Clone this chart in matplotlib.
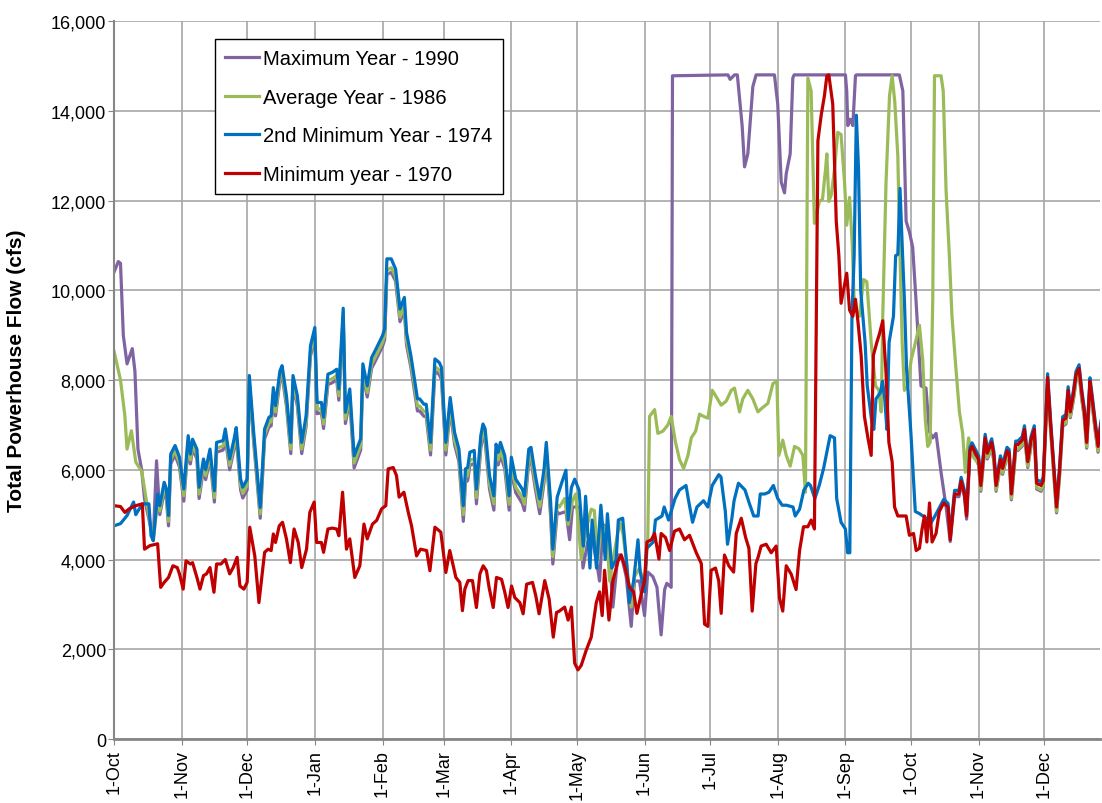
import pandas as pd
import matplotlib.pyplot as plt
import matplotlib.dates as mdates
from matplotlib.ticker import FuncFormatter, MultipleLocator

# ---------------------------------------------------------
# Daily powerhouse flow, (day since 1-Oct, cfs) pairs
# ---------------------------------------------------------
flow_1990 = [
    (0, 10400), (2, 10640), (3, 10600), (4.3, 8990), (6, 8360), (8.4, 8700), (9.6, 8200),
    (11, 6460), (12.7, 6000), (14, 5350), (18, 4450), (19.5, 6200), (21, 5000),
    (23, 5500), (24, 5350), (25, 4750), (26, 6130), (28, 6330), (30, 6060), (32, 5300),
    (34, 6550), (35, 6130), (36, 6470), (38, 6240), (39, 5360), (41, 6020), (42, 5780),
    (44, 6240), (46, 5280), (47, 6390), (50, 6440), (51, 6700), (53, 6000), (55, 6460),
    (56, 6730), (58, 5550), (59, 5370), (61, 5550), (62, 7880), (64, 6610), (67, 4920),
    (69, 6690), (71, 6950), (72, 6980), (73, 7610), (74, 7200), (76, 7980), (77, 8100),
    (79, 7420), (81, 6360), (82, 7880), (84, 7420), (86, 6360), (88, 6970), (90, 8530),
    (92, 8950), (93, 7250), (95, 7270), (96, 6920), (98, 7900), (100, 7940), (102, 8010),
    (103, 7550), (105, 9360), (106, 7030), (108, 7550), (110, 6040), (113, 6440),
    (114, 8110), (116, 7620), (118, 8260), (120, 8450), (123, 8750), (124, 8900),
    (125, 10350), (127, 10400), (129, 10200), (131, 9300), (133, 9550), (134, 8780),
    (136, 8280), (139, 7310), (140, 7310), (142, 7190), (143, 7190), (145, 6330),
    (147, 8200), (149, 8120), (150, 8010), (152, 6330), (154, 7340), (156, 6560),
    (158, 6180), (160, 4850), (161, 5720), (162, 5760), (163, 6100), (165, 6140),
    (166, 5240), (168, 6480), (169, 6740), (170, 6630), (172, 5570), (174, 5100),
    (175, 6290), (176, 6110), (177, 6330), (179, 6020), (181, 5100), (182, 5990),
    (184, 5490), (187, 5250), (188, 5090), (190, 6180), (191, 6220), (193, 5570),
    (195, 5020), (197, 5730), (198, 6330), (200, 4950), (201, 3900), (203, 5060),
    (204, 5020), (207, 5070), (208.7, 4440), (210, 5170), (213.3, 5170), (214.8, 3810),
    (217, 4390), (218.6, 4580), (220.9, 4000), (222.4, 3520), (224, 4780), (226.2, 4680),
    (228.5, 2940), (230.8, 4100), (232.3, 4100), (234.6, 3620), (236.9, 2510),
    (238.4, 3520), (240.7, 3520), (243, 2750), (244.5, 3720), (246.8, 3620),
    (248.7, 3380), (250.6, 2320), (252.2, 3330), (253.2, 3470), (255.2, 3380),
    (255.8, 14780), (281.2, 14800), (282.2, 14700), (284.2, 14800), (285.5, 14800),
    (287.7, 13670), (288.8, 12750), (290.3, 13040), (292.6, 14540), (294.1, 14800),
    (302.5, 14800), (304, 14150), (305.6, 12410), (307.1, 12170), (307.9, 12600),
    (309.7, 13040), (310.9, 14730), (311.5, 14800), (335, 14800), (335.6, 14440),
    (336.1, 13670), (337.3, 13810), (338.4, 13670), (339.6, 14780), (340, 14800),
    (359.7, 14800), (361.3, 14440), (362.8, 11540), (364.3, 11300), (365.8, 10960),
    (367.3, 9800), (368.9, 8450), (369.6, 7870), (371.9, 7820), (373.4, 6860),
    (375, 6710), (376.5, 6810), (378.8, 5940), (381.1, 5170), (383, 4400), (385, 5400),
    (387, 5400), (388, 5690), (389.5, 5400), (390.5, 4900), (392, 6340), (393, 6440),
    (396, 6100), (397, 5520), (399, 6580), (400, 6240), (402, 6480), (403, 6190),
    (404, 5520), (406, 6100), (407, 5900), (409, 6290), (410, 6240), (411, 5330),
    (413, 6430), (414, 6430), (416, 6530), (417, 6770), (418.5, 6050), (420, 6530),
    (421.5, 6770), (422.6, 5570), (424.6, 5520), (425.6, 5620), (427.6, 7930),
    (429, 6870), (430, 6190), (431.7, 5040), (433, 5810), (434.5, 6970), (436, 7020),
    (437, 7640), (438, 7160), (439.4, 7550), (440.6, 7980), (442, 8130), (443.3, 7550),
    (444.4, 7160), (445.5, 6480), (447, 7840), (448, 7450), (449.4, 6870), (450.7, 6390),
    (452, 6870),
]

flow_1986 = [
    (0, 8650), (3, 8000), (5, 7200), (6, 6460), (8, 6870), (10, 6170), (12.7, 5970),
    (15, 5270), (18, 4420), (20, 5300), (21, 5080), (23, 5600), (24, 5450), (25, 4850),
    (26, 6230), (28, 6420), (30, 6150), (32, 5420), (34, 6640), (35, 6220), (36, 6560),
    (38, 6330), (39, 5460), (41, 6110), (42, 5870), (44, 6330), (46, 5380), (47, 6480),
    (50, 6530), (51, 6790), (53, 6100), (55, 6550), (56, 6820), (58, 5650), (59, 5470),
    (61, 5650), (62, 7970), (64, 6700), (67, 5020), (69, 6780), (71, 7040), (72, 7070),
    (73, 7700), (74, 7290), (76, 8070), (77, 8190), (79, 7510), (81, 6460), (82, 7970),
    (84, 7510), (86, 6460), (88, 7060), (90, 8620), (92, 9040), (93, 7350), (95, 7360),
    (96, 7020), (98, 7990), (100, 8030), (102, 8100), (103, 7650), (105, 9450),
    (106, 7130), (108, 7650), (110, 6150), (113, 6540), (114, 8200), (116, 7720),
    (118, 8350), (120, 8540), (123, 8840), (124, 8990), (125, 10450), (127, 10500),
    (129, 10300), (131, 9400), (133, 9650), (134, 8880), (136, 8380), (139, 7420),
    (140, 7420), (142, 7300), (143, 7300), (145, 6440), (147, 8300), (149, 8220),
    (150, 8110), (152, 6440), (154, 7440), (156, 6660), (158, 6290), (160, 5000),
    (161, 5830), (162, 5870), (163, 6210), (165, 6250), (166, 5380), (168, 6590),
    (169, 6850), (170, 6740), (172, 5690), (174, 5240), (175, 6400), (176, 6220),
    (177, 6440), (179, 6130), (181, 5230), (182, 6100), (184, 5610), (187, 5390),
    (188, 5230), (190, 6290), (191, 6330), (193, 5690), (195, 5170), (197, 5840),
    (198, 6440), (200, 5090), (201, 4060), (203, 5220), (204, 5170), (206.4, 5360),
    (208, 4780), (210, 5310), (211.5, 5460), (214, 4000), (216.3, 4680), (218.6, 5120),
    (220, 5090), (221.6, 4000), (223.2, 4780), (225.5, 4680), (227, 3520), (229.3, 4200),
    (231.6, 4830), (233.1, 4580), (234.6, 4000), (236.9, 2940), (238.4, 3620),
    (240.7, 3810), (243, 3430), (244.5, 4490), (245.3, 7190), (247.6, 7340),
    (249.1, 6810), (251.4, 6860), (253.7, 7000), (255.2, 7190), (257.2, 6610),
    (259, 6230), (260.9, 6030), (262.9, 6320), (264.4, 6710), (266.4, 6860),
    (268.2, 7240), (270, 7190), (272, 7150), (274, 7770), (275.8, 7630), (278.1, 7440),
    (280.4, 7530), (282.7, 7770), (284.2, 7820), (286.5, 7290), (288, 7580),
    (290.3, 7770), (292.6, 7580), (294.9, 7290), (297.2, 7390), (299.5, 7480),
    (301.8, 7920), (303.6, 7970), (304.5, 6320), (306.3, 6660), (307.9, 6320),
    (309.7, 6080), (311.7, 6520), (313.7, 6470), (315.5, 6320), (316.7, 5500),
    (317.8, 14730), (319.3, 14440), (320.8, 11490), (323.1, 11980), (324.5, 12030),
    (325.9, 12700), (326.5, 13040), (327.4, 11980), (328.5, 12120), (330, 12700),
    (331.5, 13520), (333, 13470), (334.6, 12410), (335.6, 11450), (336.9, 12070),
    (338.1, 11060), (339.1, 9610), (341.4, 9420), (343.3, 10240), (344.8, 10190),
    (346.8, 8840), (348.8, 7870), (350.3, 7770), (351.4, 7290), (352.1, 9420),
    (353.6, 12410), (355.2, 14340), (356.4, 14780), (357.6, 14200), (359, 12990),
    (359.7, 11350), (361, 8840), (362, 7770), (363.6, 7870), (365.1, 8450),
    (366.6, 8740), (368.9, 9220), (370.4, 8450), (371.6, 7100), (372.7, 6520),
    (373.8, 6610), (375, 9800), (375.8, 14780), (378.8, 14780), (379.8, 14440),
    (381.1, 12220), (382.6, 10770), (383.8, 9420), (385.6, 8260), (387.2, 7290),
    (388.7, 6810), (389.9, 5940), (391.4, 6710), (393, 6320), (396, 6130), (397, 5550),
    (399, 6610), (400, 6270), (402, 6510), (403, 6220), (404, 5550), (406, 6130),
    (407, 5930), (409, 6320), (410, 6270), (411, 5360), (413, 6460), (414, 6460),
    (416, 6560), (417, 6800), (418.5, 6080), (420, 6560), (421.5, 6800), (422.6, 5600),
    (424.6, 5550), (425.6, 5650), (427.6, 7960), (429, 6900), (430, 6220), (431.7, 5070),
    (433, 5840), (434.5, 7000), (436, 7050), (437, 7670), (438, 7190), (439.4, 7580),
    (440.6, 8010), (442, 8160), (443.3, 7580), (444.4, 7190), (445.5, 6510), (447, 7870),
    (448, 7480), (449.4, 6900), (450.7, 6420), (452, 6900),
]

flow_1974 = [
    (0, 4750), (3, 4800), (6, 4980), (9, 5280), (10, 5000), (13, 5240), (16, 5240),
    (17, 4530), (18, 4420), (20, 5460), (21, 5200), (23, 5720), (24, 5580), (25, 4980),
    (26, 6350), (28, 6540), (30, 6280), (32, 5570), (34, 6760), (35, 6350), (36, 6680),
    (38, 6460), (39, 5610), (41, 6240), (42, 6000), (44, 6460), (46, 5530), (47, 6610),
    (50, 6650), (51, 6910), (53, 6240), (55, 6680), (56, 6940), (58, 5790), (59, 5610),
    (61, 5790), (62, 8100), (64, 6830), (67, 5160), (69, 6910), (71, 7170), (72, 7200),
    (73, 7830), (74, 7430), (76, 8200), (77, 8320), (79, 7650), (81, 6610), (82, 8100),
    (84, 7650), (86, 6610), (88, 7200), (90, 8760), (92, 9170), (93, 7500), (95, 7500),
    (96, 7170), (98, 8130), (100, 8170), (102, 8240), (103, 7800), (105, 9600),
    (106, 7280), (108, 7800), (110, 6310), (113, 6690), (114, 8360), (116, 7870),
    (118, 8500), (120, 8690), (123, 8990), (124, 9140), (125, 10700), (127, 10700),
    (129, 10470), (131, 9580), (133, 9840), (134, 9060), (136, 8540), (139, 7580),
    (140, 7580), (142, 7460), (143, 7460), (145, 6610), (147, 8470), (149, 8390),
    (150, 8280), (152, 6610), (154, 7610), (156, 6830), (158, 6460), (160, 5200),
    (161, 6020), (162, 6050), (163, 6390), (165, 6430), (166, 5570), (168, 6760),
    (169, 7020), (170, 6910), (172, 5870), (174, 5420), (175, 6570), (176, 6390),
    (177, 6610), (179, 6310), (181, 5420), (182, 6280), (184, 5790), (187, 5570),
    (188, 5420), (190, 6460), (191, 6500), (193, 5870), (195, 5350), (197, 6020),
    (198, 6610), (200, 5270), (201, 4230), (203, 5390), (205, 5700), (207, 5990),
    (208, 4880), (209.5, 5600), (211, 5790), (213, 5550), (215, 4300), (216, 5410),
    (218, 3810), (219, 4880), (221, 3810), (223, 5210), (225, 4000), (226, 5020),
    (228, 3810), (230, 4000), (231, 4880), (233, 4920), (235, 3810), (236, 3040),
    (238, 3520), (240, 4440), (241, 3720), (243, 3280), (244, 4250), (247, 4390),
    (248, 4880), (251, 4970), (252, 5170), (254, 4880), (257, 5360), (259, 5550),
    (262, 5650), (263, 5360), (265, 4830), (267, 5170), (270, 5310), (272, 5170),
    (274, 5650), (277, 5890), (278, 5840), (280, 5070), (281, 4340), (283, 4920),
    (284, 5310), (286, 5700), (289, 5550), (291, 5250), (293, 4970), (295, 4970),
    (296, 5460), (298, 5460), (300, 5500), (302, 5650), (304, 5360), (306, 5210),
    (308, 5210), (311, 5170), (312, 4970), (314, 5120), (316, 5550), (318, 5700),
    (319, 5650), (321, 5360), (323, 5650), (325, 6030), (327, 6520), (328, 6760),
    (330, 6710), (331, 5360), (333, 4830), (335, 4680), (336, 4150), (337, 4150),
    (338, 9420), (339, 10770), (340, 13900), (341, 12700), (342, 9990), (343, 9420),
    (344, 8840), (345, 7870), (347, 7100), (348, 6900), (349, 7580), (351, 7720),
    (352, 7970), (353, 7580), (354, 6900), (355, 8840), (357, 9420), (358, 10770),
    (359, 10800), (360, 12270), (361, 11000), (362, 9800), (363, 8260), (365, 6810),
    (366, 5940), (367, 5070), (369, 5020), (372, 4920), (374, 4800), (376, 4970),
    (378, 5150), (380, 5340), (382, 5250), (383, 4520), (385, 5540), (387, 5540),
    (388, 5830), (389.5, 5540), (390.5, 5050), (392, 6500), (393, 6600), (396, 6310),
    (397, 5730), (399, 6790), (400, 6450), (402, 6690), (403, 6400), (404, 5730),
    (406, 6310), (407, 6110), (409, 6500), (410, 6450), (411, 5540), (413, 6640),
    (414, 6640), (416, 6740), (417, 6980), (418.5, 6260), (420, 6740), (421.5, 6980),
    (422.6, 5780), (424.6, 5730), (425.6, 5830), (427.6, 8140), (429, 7080), (430, 6400),
    (431.7, 5250), (433, 6020), (434.5, 7180), (436, 7230), (437, 7850), (438, 7370),
    (439.4, 7760), (440.6, 8190), (442, 8340), (443.3, 7760), (444.4, 7370),
    (445.5, 6690), (447, 8050), (448, 7660), (449.4, 7080), (450.7, 6600), (452, 7080),
]

flow_1970 = [
    (0, 5200), (3, 5180), (5, 5050), (7, 5130), (10, 5200), (13, 5240), (14, 4230),
    (16.5, 4310), (20, 4350), (21.4, 3380), (23, 3490), (25, 3600), (27, 3860),
    (29, 3820), (30, 3680), (31.7, 3340), (33, 3970), (35, 3900), (36, 3930), (38, 3600),
    (39.4, 3340), (41, 3640), (42.4, 3680), (44, 3820), (45.8, 3270), (47, 3900),
    (49, 3900), (51, 4000), (53, 3680), (54.6, 3820), (56.4, 4050), (57.7, 3410),
    (59.5, 3340), (61, 3490), (62.2, 4720), (64.5, 4080), (66.4, 3040), (69, 4160),
    (70.6, 4230), (72, 4200), (73, 4570), (74, 4380), (75.7, 4750), (77.2, 4830),
    (79, 4460), (80.8, 3930), (82.5, 4680), (84.4, 4380), (86, 3820), (88.2, 4230),
    (89.7, 5050), (91.7, 5280), (92.8, 4380), (95, 4380), (96, 4160), (98, 4680),
    (100, 4700), (102, 4680), (103, 4530), (104.7, 5500), (106.5, 4230), (108, 4460),
    (110.3, 3600), (112.6, 3860), (114.5, 4790), (116, 4460), (118.4, 4790),
    (120.3, 4870), (122.6, 5130), (124.5, 5200), (125.6, 6020), (127.9, 6050),
    (129.4, 5870), (130.6, 5390), (132.8, 5500), (134.8, 5050), (136.3, 4750),
    (138.6, 4080), (140.4, 4230), (143.2, 4200), (144.7, 3750), (147, 4720),
    (149.7, 4610), (152, 3710), (153.8, 4200), (156.6, 3600), (158.4, 3490),
    (159.6, 2860), (160.7, 3340), (162.2, 3530), (164.2, 3530), (166, 2930),
    (167.6, 3680), (169.1, 3860), (170.6, 3750), (171.8, 3380), (173.7, 2930),
    (175.2, 3600), (177.5, 3560), (179, 3270), (180.5, 2930), (182.1, 3410),
    (183.6, 3150), (185.9, 3040), (187.4, 2790), (189, 3450), (191.7, 3490),
    (193.2, 3190), (194.7, 2790), (197.3, 3530), (199.3, 3120), (201.2, 2270),
    (202.7, 2820), (204, 2850), (206.4, 2940), (208, 2650), (209.5, 2940), (211, 1690),
    (212.5, 1540), (214, 1640), (216.3, 1980), (218.6, 2270), (220.9, 3040),
    (222.4, 3280), (223.6, 2750), (224.7, 3760), (226.7, 2650), (228.5, 3520),
    (230.8, 3960), (232.3, 4100), (233.9, 3860), (236.1, 3380), (238, 3280),
    (239.5, 2800), (241.5, 3230), (243, 3520), (244.1, 4390), (246.1, 4440),
    (247.6, 4580), (249.6, 4010), (250.6, 4580), (252.6, 4490), (254.5, 4200),
    (256.7, 4630), (259, 4680), (261.3, 4440), (263.6, 4540), (266.7, 4150), (269, 3910),
    (270.5, 2560), (272, 2510), (273.5, 3760), (275.5, 3810), (277, 3520), (278.1, 2800),
    (279.6, 4100), (281.6, 3860), (283.8, 3720), (285, 4580), (287.3, 4920),
    (289.3, 4490), (290.8, 4250), (292.3, 2850), (294, 3910), (295, 4050),
    (296.4, 4300), (298.7, 4340), (301, 4150), (303.3, 4300), (304.8, 3140),
    (306.3, 2850), (307.9, 3860), (310.2, 3670), (312.4, 3330), (314, 4200),
    (315.8, 4730), (317.8, 4730), (319.3, 4880), (320.8, 4680), (322.4, 13330),
    (323.9, 13900), (325.4, 14340), (326.5, 14780), (327.4, 14800), (329.2, 14150),
    (330.8, 11540), (332, 10770), (333, 9710), (334.1, 9990), (335.6, 10380),
    (336.9, 9560), (338.4, 9420), (339.6, 9800), (340.7, 9320), (342.2, 8550),
    (343.7, 7190), (345.3, 6710), (346.8, 6320), (347.8, 8550), (349.4, 8840),
    (350.6, 9030), (352.1, 9320), (353.6, 8160), (354.9, 6610), (356.4, 6180),
    (357.5, 5170), (359, 4970), (360.5, 4970), (362.8, 4970), (364.3, 4540),
    (366.2, 4580), (367.4, 4200), (368.9, 4250), (370.1, 4680), (371.2, 4970),
    (372.3, 4390), (373.5, 5260), (374.7, 4390), (376.5, 4580), (378, 5070), (380, 5260),
    (382, 5170), (383, 4440), (385, 5460), (387, 5460), (388, 5750), (389.5, 5460),
    (390.5, 4970), (392, 6420), (393, 6520), (396, 6230), (397, 5650), (399, 6710),
    (400, 6370), (402, 6610), (403, 6320), (404, 5650), (406, 6230), (407, 6030),
    (409, 6420), (410, 6370), (411, 5460), (413, 6560), (414, 6560), (416, 6660),
    (417, 6900), (418.5, 6180), (420, 6660), (421.5, 6900), (422.6, 5700), (424.6, 5650),
    (425.6, 5750), (427.6, 8060), (429, 7000), (430, 6320), (431.7, 5170), (433, 5940),
    (434.5, 7100), (436, 7150), (437, 7770), (438, 7290), (439.4, 7680), (440.6, 8110),
    (442, 8260), (443.3, 7680), (444.4, 7290), (445.5, 6610), (447, 7970), (448, 7580),
    (449.4, 7000), (450.7, 6520), (452, 7000),
]

series = [
    ('Maximum Year - 1990', flow_1990, '#8064A2'),
    ('Average Year - 1986', flow_1986, '#9BBB59'),
    ('2nd Minimum Year - 1974', flow_1974, '#0070C0'),
    ('Minimum year - 1970', flow_1970, '#C00000'),
]

start = pd.Timestamp('2001-10-01')

plt.rcParams['font.family'] = ['Liberation Sans', 'DejaVu Sans']

fig = plt.figure(figsize=(11.02, 8.04), dpi=100)
ax = fig.add_axes([0.1034, 0.0796, 0.8946, 0.8930])

for label, pts, color in series:
    days, cfs = zip(*pts)
    dates = start + pd.to_timedelta(list(days), unit='D')
    ax.plot(dates, cfs, color=color, lw=2.3, label=label, solid_joinstyle='round')

# axes, grid, ticks
ax.set_ylim(0, 16000)
ax.set_xlim(start, start + pd.Timedelta(days=451.5))
ax.yaxis.set_major_locator(MultipleLocator(2000))
ax.yaxis.set_major_formatter(FuncFormatter(lambda v, p: f'{v:,.0f}'))
ax.xaxis.set_major_locator(mdates.MonthLocator(bymonthday=1))
ax.xaxis.set_major_formatter(mdates.DateFormatter('%-d-%b'))
ax.tick_params(axis='x', rotation=90, labelsize=13, length=4, color='#868686', pad=3)
ax.tick_params(axis='y', labelsize=13, length=4.3, color='#868686', pad=1.5)
ax.grid(True, color='#A6A6A6', lw=1.2)
ax.set_axisbelow(True)
for s in ('top', 'right'):
    ax.spines[s].set_visible(False)
ax.spines['left'].set_color('#868686')
ax.spines['left'].set_linewidth(1.5)
ax.spines['bottom'].set_color('#868686')
ax.spines['bottom'].set_linewidth(2)

ax.set_ylabel('Total Powerhouse Flow (cfs)', fontsize=15, fontweight='bold')
ax.yaxis.set_label_coords(-0.0892, 0.514)

leg = ax.legend(loc='upper left', bbox_to_anchor=(0.1024, 0.975), fontsize=14.5,
                frameon=True, fancybox=False, edgecolor='black', framealpha=1,
                handlelength=1.7, handletextpad=0.2, labelspacing=0.97,
                borderpad=0.5, borderaxespad=0)
leg.get_frame().set_linewidth(1.0)

plt.savefig('out.png', dpi=100)
